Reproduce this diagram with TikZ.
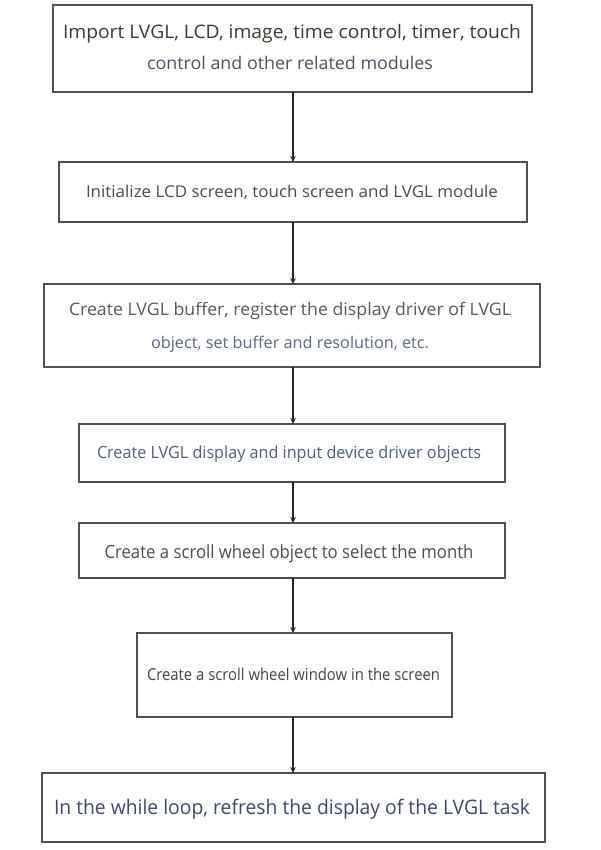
\documentclass[tikz,border=0pt]{standalone}
\usepackage{fontspec}
\setmainfont{Open Sans}
\usetikzlibrary{arrows.meta,shadows}
\definecolor{boxc}{HTML}{505050}
\definecolor{ca}{HTML}{3B3B30}
\definecolor{cb}{HTML}{4A5363}
\definecolor{cc}{HTML}{4B4B4B}
\definecolor{cd}{HTML}{585858}
\definecolor{ce}{HTML}{5A6882}
\definecolor{cf}{HTML}{4F5F7D}
\definecolor{cg}{HTML}{4D4D4B}
\definecolor{ch}{HTML}{454540}
\definecolor{ci}{HTML}{3E4868}
\newlength\fitwd
\newlength\fitht
\newcommand\fitt[3]{\settowidth\fitwd{#3}\setlength\fitht{\fontcharht\font`H}\pgfmathsetmacro\fsx{#1/\fitwd}\pgfmathsetmacro\fsy{#2/\fitht}\scalebox{\fsx}[\fsy]{#3}}
\begin{document}
\begin{tikzpicture}[x=1pt,y=-1pt,
  box/.style={draw=boxc, line width=1.7pt, fill=white, inner sep=0pt, outer sep=0pt,
    drop shadow={shadow xshift=0.8pt, shadow yshift=-0.8pt, opacity=0.25}},
  lbl/.style={anchor=base, inner sep=0pt, font=\fontsize{10}{12}\selectfont},
  arr/.style={draw=black!85, line width=1.4pt, -{Stealth[length=6pt,width=5.5pt]}}]
\fill[white] (0,0) rectangle (600,850);
\useasboundingbox (0,0) rectangle (600,850);
\node[box, minimum width=479pt, minimum height=87pt] (b1) at (292.5,48.5) {};
\node[box, minimum width=468pt, minimum height=60pt] (b2) at (293,192) {};
\node[box, minimum width=496pt, minimum height=83pt] (b3) at (292,325.5) {};
\node[box, minimum width=426pt, minimum height=58pt] (b4) at (292,453) {};
\node[box, minimum width=426pt, minimum height=55pt] (b5) at (292,550.5) {};
\node[box, minimum width=315pt, minimum height=84pt] (b6) at (294.5,675) {};
\node[box, minimum width=503pt, minimum height=69pt] (b7) at (293.5,807.5) {};
\node[lbl, text=ca] (t1a) at (292,38.3) {\fitt{458}{13.3}{Import LVGL, LCD, image, time control, timer, touch}};
\node[lbl, text=cb] (t1b) at (290,70) {\fitt{286}{12.5}{control and other related modules}};
\node[lbl, text=cc] (t2) at (292,197.3) {\fitt{412}{11.6}{Initialize LCD screen, touch screen and LVGL module}};
\node[lbl, text=cd] (t3a) at (290,315) {\fitt{442}{12.3}{Create LVGL buffer, register the display driver of LVGL}};
\node[lbl, text=ce] (t3b) at (290,348) {\fitt{278}{11.5}{object, set buffer and resolution, etc.}};
\node[lbl, text=cf] (t4) at (289,458) {\fitt{384}{12}{Create LVGL display and input device driver objects}};
\node[lbl, text=cg] (t5) at (289,558) {\fitt{369}{13}{Create a scroll wheel object to select the month}};
\node[lbl, text=ch] (t6) at (293.5,680.7) {\fitt{293}{11.7}{Create a scroll wheel window in the screen}};
\node[lbl, text=ci] (t7) at (292,814.3) {\fitt{476}{14.3}{In the while loop, refresh the display of the LVGL task}};
\coordinate (ax) at (293,0);
\draw[arr] (b1.south -| ax) -- (b2.north -| ax);
\draw[arr] (b2.south -| ax) -- (b3.north -| ax);
\draw[arr] (b3.south -| ax) -- (b4.north -| ax);
\draw[arr] (b4.south -| ax) -- (b5.north -| ax);
\draw[arr] (b5.south -| ax) -- (b6.north -| ax);
\draw[arr] (b6.south -| ax) -- (b7.north -| ax);
\end{tikzpicture}
\end{document}
